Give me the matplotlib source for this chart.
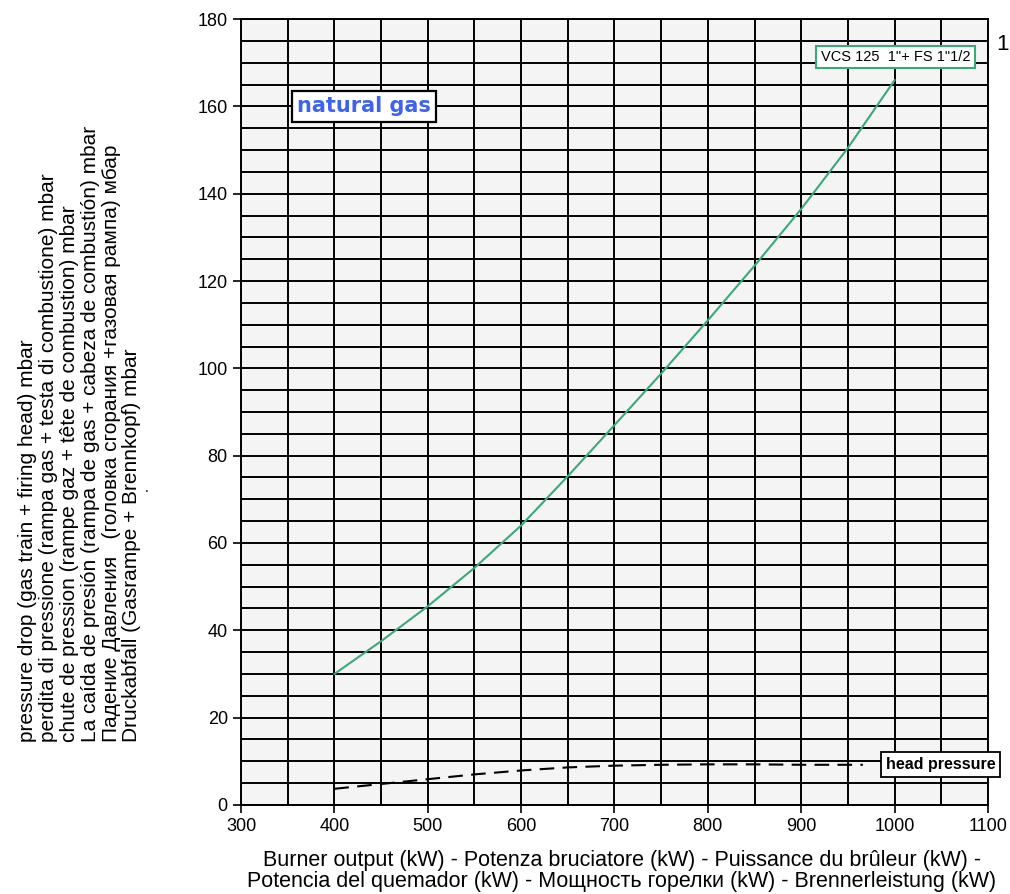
import matplotlib
matplotlib.use("Agg")
import matplotlib.pyplot as plt
from matplotlib.ticker import MultipleLocator

plt.rcParams["font.family"] = ["Liberation Sans", "DejaVu Sans"]

# green curve: gas train + firing head (VCS 125 1"+ FS 1"1/2)
kw_train = [400, 450, 500, 550, 600, 650, 700, 750, 800, 850, 900, 950, 1000]
dp_train = [30, 37.5, 45.5, 54.3, 64, 75.3, 87, 98.8, 111, 123.5, 136.5, 150.5, 166]

# dashed curve: head pressure
kw_head = [400, 450, 500, 550, 600, 650, 700, 750, 800, 850, 900, 966]
dp_head = [3.7, 4.8, 5.9, 7.0, 7.9, 8.6, 9.0, 9.2, 9.3, 9.3, 9.2, 9.2]

ylabel = ("pressure drop (gas train + firing head) mbar\n"
          "perdita di pressione (rampa gas + testa di combustione) mbar\n"
          "chute de pression (rampe gaz + tête de combustion) mbar\n"
          "La caída de presión (rampa de gas + cabeza de combustión) mbar\n"
          "Падение Давления   (головка сгорания +газовая рампа) мбар\n"
          "Druckabfall (Gasrampe + Brennkopf) mbar")
xlabel = ("Burner output (kW) - Potenza bruciatore (kW) - Puissance du brûleur (kW) -\n"
          "Potencia del quemador (kW) - Мощность горелки (kW) - Brennerleistung (kW)")

fig = plt.figure(figsize=(10.1, 8.94), dpi=100)
ax = fig.add_axes([0.2386, 0.0996, 0.7396, 0.8791])
ax.set_facecolor("#f4f4f4")

ax.set_xlim(300, 1100)
ax.set_ylim(0, 180)
ax.xaxis.set_major_locator(MultipleLocator(100))
ax.xaxis.set_minor_locator(MultipleLocator(50))
ax.yaxis.set_major_locator(MultipleLocator(20))
ax.yaxis.set_minor_locator(MultipleLocator(5))
ax.grid(True, which="both", color="black", linewidth=1.4)
ax.set_axisbelow(True)
ax.tick_params(which="major", direction="out", length=6, width=1.2,
               labelsize=13, colors="black")
ax.tick_params(which="minor", length=0)
for s in ax.spines.values():
    s.set_color("black")
    s.set_linewidth(1.4)

ax.plot(kw_train, dp_train, color="#3aa97a", linewidth=1.5, zorder=3)
ax.plot(kw_head, dp_head, color="black", linewidth=1.5,
        dashes=(7, 4), zorder=3)

ax.text(1001, 171.3, 'VCS 125  1"+ FS 1"1/2', ha="center", va="center",
        fontsize=10.5, zorder=4,
        bbox=dict(boxstyle="square,pad=0.3", fc="white", ec="#3aa97a", lw=1.5))
ax.text(432, 160, "natural gas", ha="center", va="center", fontsize=15,
        color="#3d63f0", family=["DejaVu Sans"], fontweight="bold", zorder=4,
        bbox=dict(boxstyle="square,pad=0.25", fc="white", ec="black", lw=1.6))
ax.text(1049.5, 9.2, "head pressure", ha="center", va="center", fontsize=11.5,
        fontweight="bold", zorder=4,
        bbox=dict(boxstyle="square,pad=0.3", fc="white", ec="black", lw=1.3))

fig.text(1009 / 1010, 1 - 45 / 894, "1", fontsize=16, ha="right", va="center")
fig.text(80 / 1010, 1 - 742 / 894, ylabel, rotation=90, ha="center",
         va="bottom", multialignment="left", fontsize=15, linespacing=1.12)
fig.text(147 / 1010, 1 - 488 / 894, ".", fontsize=10, ha="center", va="center")
fig.text(622 / 1010, 1 - 871 / 894, xlabel, ha="center", va="center",
         fontsize=15.5, linespacing=1.03)

fig.savefig("out.png", dpi=100)
